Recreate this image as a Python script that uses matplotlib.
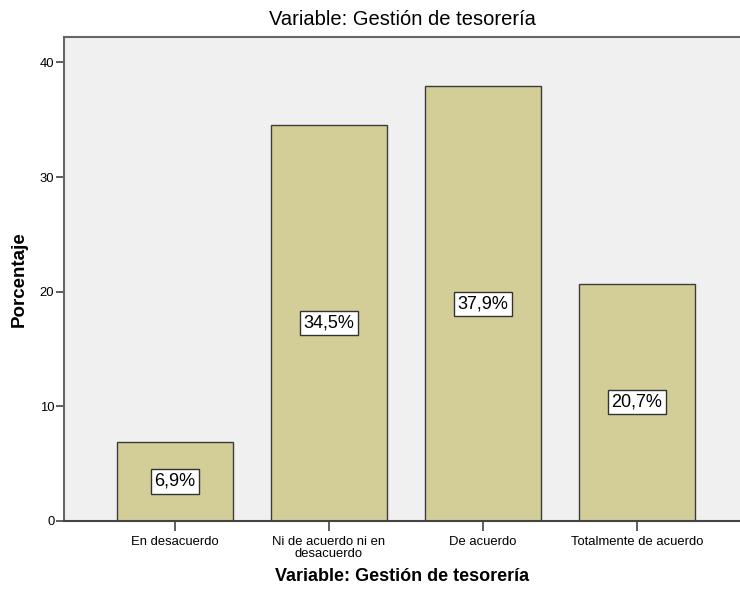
import matplotlib.pyplot as plt

plt.rcParams['font.family'] = ['Liberation Sans', 'DejaVu Sans']

categorias = ['En desacuerdo', 'Ni de acuerdo ni en\ndesacuerdo', 'De acuerdo', 'Totalmente de acuerdo']
porcentajes = [6.9, 34.5, 37.9, 20.7]
etiquetas = ['6,9%', '34,5%', '37,9%', '20,7%']

fig = plt.figure(figsize=(7.4, 5.9), dpi=100)
ax = fig.add_axes([0.0865, 0.117, 0.9135, 0.820])
ax.set_facecolor('#f0f0f0')

x = range(len(categorias))
ax.bar(x, porcentajes, width=0.753, color='#d3ce97', edgecolor='#3c3c3c', linewidth=1, zorder=2)

# etiquetas en mitad de cada barra
for i, (v, t) in enumerate(zip(porcentajes, etiquetas)):
    ax.text(i, v / 2, t, ha='center', va='center', fontsize=13, zorder=3,
            bbox=dict(boxstyle='square,pad=0.2', facecolor='white', edgecolor='#333333', linewidth=1))

ax.set_xlim(-0.72, 3.67)
ax.set_ylim(0, 42.2)
ax.set_yticks([0, 10, 20, 30, 40])
ax.set_xticks(list(x))
ax.set_xticklabels(categorias, fontsize=9.4, linespacing=0.95)
ax.tick_params(axis='y', labelsize=9.4, length=6, width=1.2, color='#444444', pad=1)
ax.tick_params(axis='x', length=7, width=1.2, color='#444444', pad=4)

ax.spines['right'].set_visible(False)
for s in ['left', 'bottom', 'top']:
    ax.spines[s].set_color('#666666')
    ax.spines[s].set_linewidth(1.5)
ax.spines['bottom'].set_color('#444444')

ax.set_title('Variable: Gestión de tesorería', fontsize=14.5, pad=9)
ax.set_xlabel('Variable: Gestión de tesorería', fontsize=13, fontweight='bold', labelpad=6)
ax.set_ylabel('Porcentaje', fontsize=13.5, fontweight='bold', labelpad=9)

fig.savefig('out.png', dpi=100)
